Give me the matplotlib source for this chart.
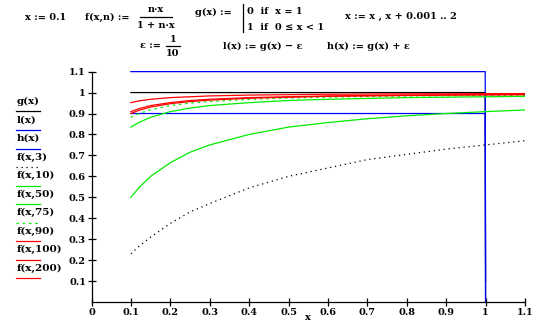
import numpy as np
import matplotlib
matplotlib.use('Agg')
import matplotlib.pyplot as plt
from matplotlib.lines import Line2D

# values
x_pts = [0.1, 0.12, 0.15, 0.2, 0.25, 0.3, 0.4, 0.5, 0.6, 0.7, 0.8, 0.9, 1.0, 1.1]
f_3 = [0.23, 0.265, 0.31, 0.375, 0.43, 0.47, 0.545, 0.6, 0.64, 0.68, 0.705, 0.73, 0.75, 0.77]
f_10 = [0.5, 0.545, 0.6, 0.665, 0.715, 0.75, 0.8, 0.835, 0.857, 0.875, 0.889, 0.9, 0.909, 0.917]
f_50 = [0.835, 0.857, 0.882, 0.909, 0.926, 0.938, 0.952, 0.962, 0.968, 0.972, 0.976, 0.978, 0.98, 0.982]
f_75 = [0.882, 0.9, 0.918, 0.938, 0.95, 0.957, 0.968, 0.974, 0.978, 0.981, 0.984, 0.985, 0.987, 0.988]
f_90 = [0.9, 0.915, 0.931, 0.947, 0.957, 0.964, 0.973, 0.978, 0.982, 0.984, 0.986, 0.988, 0.989, 0.99]
f_100 = [0.909, 0.923, 0.938, 0.952, 0.962, 0.968, 0.976, 0.98, 0.984, 0.986, 0.988, 0.989, 0.99, 0.991]
f_200 = [0.952, 0.96, 0.968, 0.976, 0.98, 0.984, 0.988, 0.99, 0.992, 0.993, 0.994, 0.994, 0.995, 0.995]

x_step = [0.1, 0.999, 1.0]
g_vals = [1, 1, 0]
l_vals = [0.9, 0.9, -0.1]
h_vals = [1.1, 1.1, 0.1]

legend_labels = ['g(x)', 'l(x)', 'h(x)', 'f(x,3)', 'f(x,10)', 'f(x,50)',
                 'f(x,75)', 'f(x,90)', 'f(x,100)', 'f(x,200)']
ticks = [0, 0.1, 0.2, 0.3, 0.4, 0.5, 0.6, 0.7, 0.8, 0.9, 1, 1.1]
tick_labels = ['0', '0.1', '0.2', '0.3', '0.4', '0.5', '0.6', '0.7', '0.8', '0.9', '1', '1.1']

W, H = 548, 327
FONT = ['DejaVu Serif', 'DejaVu Sans']
BLUE, GREEN, RED = '#0000ff', '#00ee00', '#ff0000'

def px(x):
    return x / W

def py(y):
    return 1 - y / H

def ftext(x, y, s, size=7, ha='left'):
    fig.text(px(x), py(y), s, ha=ha, va='center', fontsize=size,
             fontweight='bold', family=FONT)

def fline(x0, x1, y0, y1, color='black', **kw):
    fig.add_artist(Line2D([px(x0), px(x1)], [py(y0), py(y1)], color=color,
                          lw=kw.pop('lw', 0.9), transform=fig.transFigure, **kw))

fig = plt.figure(figsize=(W / 100, H / 100), dpi=100)
ax = fig.add_axes([px(91.5), py(302), px(525) - px(91.5), py(71) - py(302)])

styles = [
    (x_step, g_vals, dict(color='black', ls='-')),
    (x_step, l_vals, dict(color=BLUE, ls='-')),
    (x_step, h_vals, dict(color=BLUE, ls='-')),
    (x_pts, f_3, dict(color='black', ls=(0, (1, 3)))),
    (x_pts, f_10, dict(color=GREEN, ls='-')),
    (x_pts, f_50, dict(color=GREEN, ls='-')),
    (x_pts, f_75, dict(color=GREEN, ls=(0, (2, 3)))),
    (x_pts, f_90, dict(color=RED, ls='-')),
    (x_pts, f_100, dict(color=RED, ls='-')),
    (x_pts, f_200, dict(color=RED, ls='-')),
]
for xs, ys, st in styles:
    ax.plot(xs, ys, lw=0.9, **st)

ax.set_xlim(0, 1.1)
ax.set_ylim(0, 1.103)
ax.spines['top'].set_visible(False)
ax.spines['right'].set_visible(False)
ax.spines['left'].set_bounds(0, 1.1)
ax.spines['left'].set_linewidth(0.9)
ax.spines['bottom'].set_linewidth(0.9)
ax.set_xticks(ticks)
ax.set_xticklabels(tick_labels)
ax.set_yticks(ticks[1:])
ax.set_yticklabels(tick_labels[1:])
ax.tick_params(direction='inout', length=6, width=0.9, pad=1)
for lab in ax.get_xticklabels() + ax.get_yticklabels():
    lab.set_fontsize(7)
    lab.set_fontweight('bold')
    lab.set_family(FONT)

# axis label placed by hand so it sits just under the tick labels
ftext(308, 317, 'x', ha='center')

# legend drawn by hand, Mathcad style
for i, (lab, (_, _, st)) in enumerate(zip(legend_labels, styles)):
    y = 101.5 + i * 18.5
    ftext(17, y, lab, size=7.5)
    fline(16, 40, y + 10, y + 10, color=st['color'], ls=st['ls'])

# worksheet definitions above the plot
ftext(25, 17, 'x := 0.1')
ftext(85, 17, 'f(x,n) :=')
ftext(156, 10, 'n\u00b7x', ha='center')
fline(140, 172, 17, 17)
ftext(156, 25, '1 + n\u00b7x', ha='center')
ftext(195, 12, 'g(x) :=')
fline(243, 243, 4, 32)
ftext(247, 11, '0  if  x = 1')
ftext(247, 27, '1  if  0 \u2264 x < 1')
ftext(345, 16, 'x := x , x + 0.001 \u2025 2')
ftext(140, 46, '\u03b5 :=')
ftext(173, 39, '1', ha='center')
fline(166, 180, 46, 46)
ftext(173, 53, '10', ha='center')
ftext(223, 46, 'l(x) := g(x) \u2212 \u03b5')
ftext(327, 46, 'h(x) := g(x) + \u03b5')

fig.savefig('out.png', dpi=100)
